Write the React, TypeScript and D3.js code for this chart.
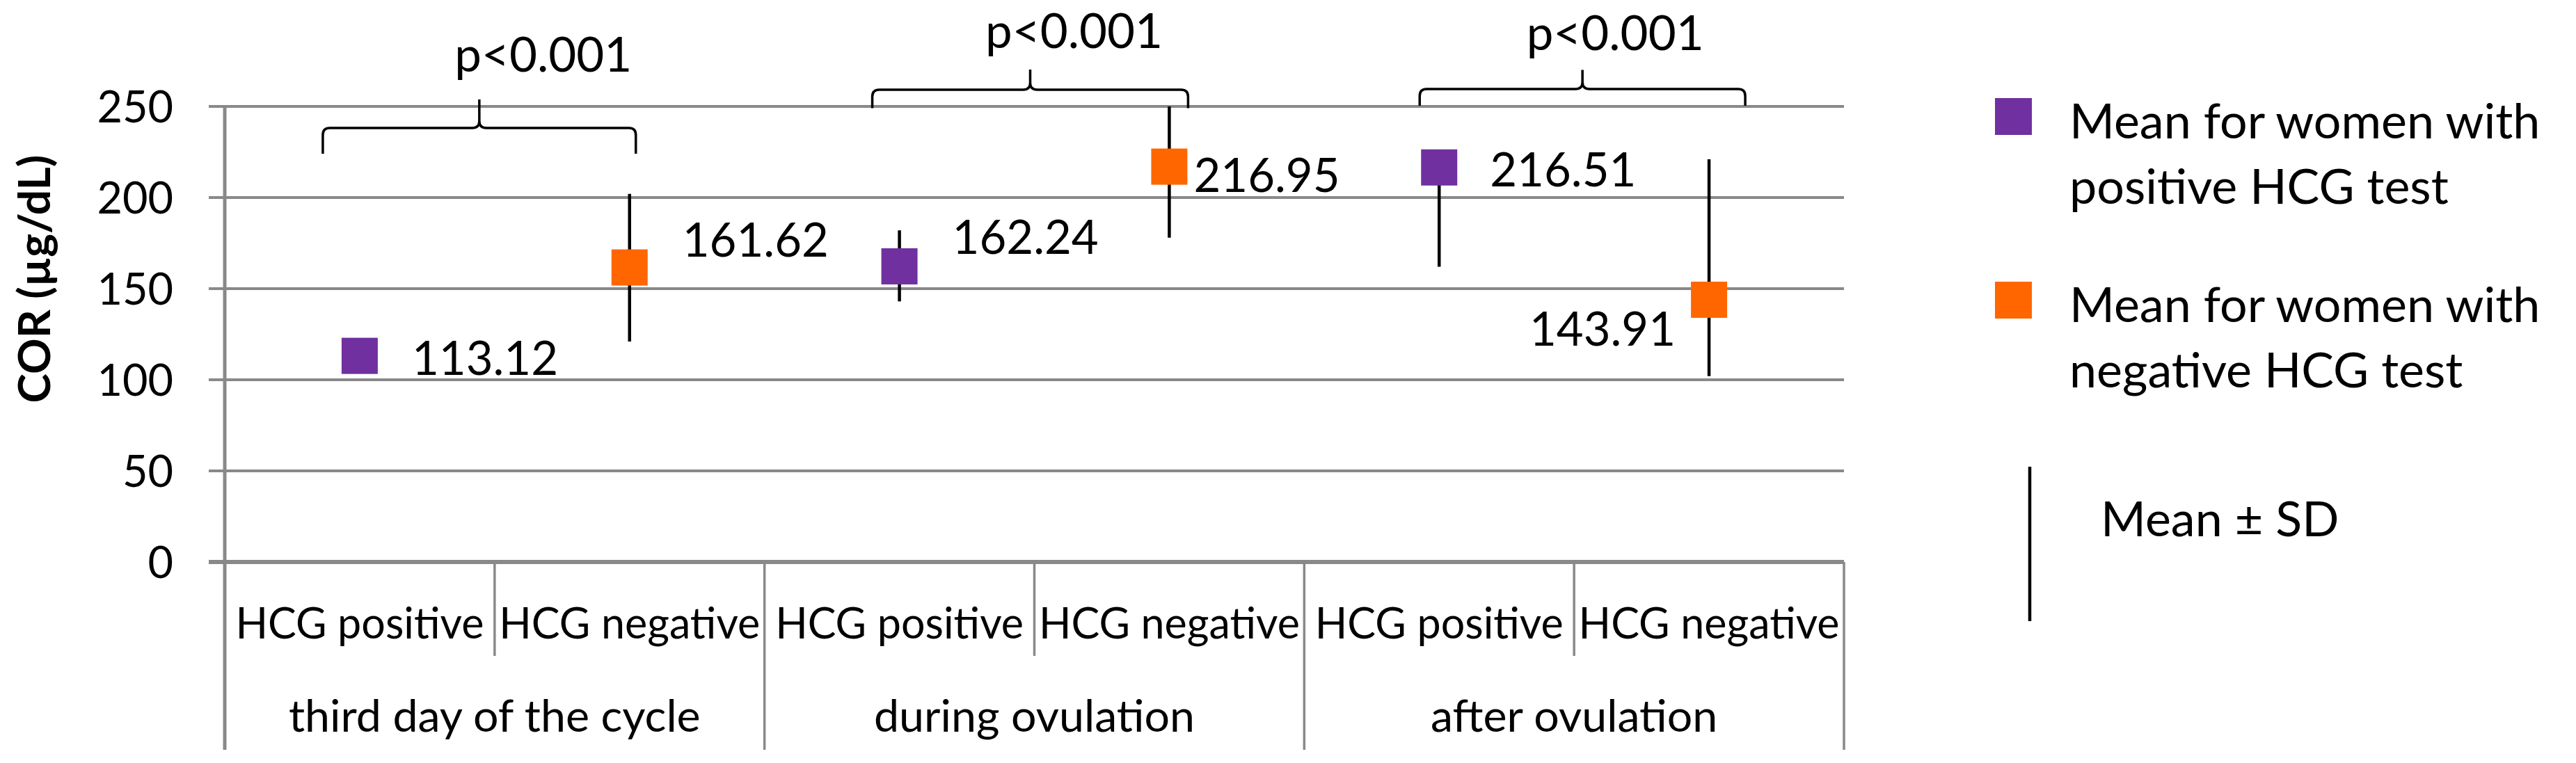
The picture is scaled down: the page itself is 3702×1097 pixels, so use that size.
import React from "react";
import * as d3 from "d3";

// ---- data ----
const groups = ["third day of the cycle", "during ovulation", "after ovulation"];
const subLabels = ["HCG positive", "HCG negative"];
const means = [113.12, 161.62, 162.24, 216.95, 216.51, 143.91];
const errLow = [113.12, 121, 143, 178, 162, 102];
const errHigh = [113.12, 202, 182, 256, 216.51, 221];
const seriesNames = [
  ["Mean for women with", "positive HCG test"],
  ["Mean for women with", "negative HCG test"],
];
const seriesColors = ["#7030A0", "#FF6600"];
const pLabels = ["p<0.001", "p<0.001", "p<0.001"];
const yTicks = [0, 50, 100, 150, 200, 250];
const yTitle = "COR (µg/dL)";
const sdLabel = "Mean ± SD";

// ---- layout ----
const W = 3702;
const H = 1097;
const FONT = "Lato, Calibri, Carlito, sans-serif";
const plotLeft = 323;
const plotRight = 2650;
const plotTop = 153;
const plotBottom = 808;
const subLabelBaseline = 918;
const subDividerBottom = 943;
const groupDividerBottom = 1078;
const groupLabelBaseline = 1052;
const markerSize = 52;
// label nudges [dx, dy(px), anchor]
const labelNudge: [number, number, string][] = [
  [75, 3, "start"],
  [76, -40, "start"],
  [76, -42, "start"],
  [35, 12, "start"],
  [73, 3, "start"],
  [-48, 42, "end"],
];
// bracket layout: [leftOffset from first center, rightOffset from second center, bar value, end value, tip value, text dx, text baseline value]
const bracketLayout: number[][] = [
  [-53, 9, 238.2, 224, 253.8, 92, 269],
  [-39, 27, 259.2, 249, 270.2, 63, 282],
  [-28, 52, 259.5, 250.4, 270, 47, 281],
];

export default function App() {
  const ids = means.map((_, i) => String(i));
  const x = d3.scaleBand<string>().domain(ids).range([plotLeft, plotRight]).padding(0);
  const y = d3.scaleLinear().domain([0, 250]).range([plotBottom, plotTop]);
  const cx = (i: number) => (x(String(i)) as number) + x.bandwidth() / 2;
  const bw = x.bandwidth();
  const grid = "#898989";

  const bracketPath = (i: number) => {
    const [lo, ro, bar, end, tip] = bracketLayout[i];
    const L = cx(i * 2) + lo;
    const R = cx(i * 2 + 1) + ro;
    const C = (L + R) / 2;
    const yb = y(bar);
    const ye = y(end);
    const yt = y(tip);
    const r = 10;
    return [
      `M${L},${ye}`,
      `L${L},${yb + r}`,
      `Q${L},${yb} ${L + r},${yb}`,
      `L${C - r},${yb}`,
      `Q${C},${yb} ${C},${yb - r}`,
      `L${C},${yt}`,
      `M${C},${yb - r}`,
      `Q${C},${yb} ${C + r},${yb}`,
      `L${R - r},${yb}`,
      `Q${R},${yb} ${R},${yb + r}`,
      `L${R},${ye}`,
    ].join(" ");
  };

  return (
    <div style={{ position: "absolute", left: 0, top: 0 }}>
      <svg width={W} height={H} style={{ display: "block", background: "#fff" }} fontFamily={FONT}>
        {/* gridlines + ticks */}
        {yTicks.map((t) => (
          <line key={"g" + t} x1={300} x2={plotRight} y1={y(t)} y2={y(t)} stroke={grid} strokeWidth={t === 0 ? 6 : 4} />
        ))}
        {yTicks.map((t) => (
          <text key={"tl" + t} x={249} y={y(t) + 23} fontSize={63} textAnchor="end" fill="#000">
            {t}
          </text>
        ))}
        {/* y axis line */}
        <line x1={plotLeft} x2={plotLeft} y1={plotTop} y2={groupDividerBottom} stroke={grid} strokeWidth={5} />
        {/* category dividers */}
        {d3.range(1, 7).map((k) => (
          <line
            key={"d" + k}
            x1={plotLeft + k * bw}
            x2={plotLeft + k * bw}
            y1={plotBottom}
            y2={k % 2 === 0 ? groupDividerBottom : subDividerBottom}
            stroke={grid}
            strokeWidth={3.5}
          />
        ))}
        {/* sub labels */}
        {ids.map((id, i) => (
          <text key={"s" + id} x={cx(i)} y={subLabelBaseline} fontSize={61} textAnchor="middle" fill="#000">
            {subLabels[i % 2]}
          </text>
        ))}
        {/* group labels */}
        {groups.map((g, gi) => (
          <text key={"gr" + gi} x={plotLeft + bw * (gi * 2 + 1)} y={groupLabelBaseline} fontSize={64.5} textAnchor="middle" fill="#000">
            {g}
          </text>
        ))}
        {/* y title */}
        <text transform={`translate(72,401) rotate(-90)`} fontSize={64} fontWeight="bold" textAnchor="middle" fill="#000">
          {yTitle}
        </text>
        {/* error bars */}
        {means.map((m, i) =>
          errHigh[i] > errLow[i] ? (
            <line
              key={"e" + i}
              x1={cx(i)}
              x2={cx(i)}
              y1={y(Math.max(0, errLow[i]))}
              y2={y(Math.min(250, errHigh[i]))}
              stroke="#000"
              strokeWidth={4.5}
            />
          ) : null
        )}
        {/* markers */}
        {means.map((m, i) => (
          <rect
            key={"m" + i}
            x={cx(i) - markerSize / 2}
            y={y(m) - markerSize / 2}
            width={markerSize}
            height={markerSize}
            fill={seriesColors[i % 2]}
          />
        ))}
        {/* value labels */}
        {means.map((m, i) => (
          <text
            key={"v" + i}
            x={cx(i) + labelNudge[i][0]}
            y={y(m) + labelNudge[i][1] + 24}
            fontSize={67}
            textAnchor={labelNudge[i][2] as any}
            fill="#000"
          >
            {m.toFixed(2)}
          </text>
        ))}
        {/* brackets */}
        {bracketLayout.map((b, i) => {
          const L = cx(i * 2) + b[0];
          const R = cx(i * 2 + 1) + b[1];
          return (
            <g key={"b" + i}>
              <path d={bracketPath(i)} fill="none" stroke="#000" strokeWidth={3.5} />
              <text x={(L + R) / 2 + b[5]} y={y(b[6])} fontSize={69} textAnchor="middle" fill="#000">
                {pLabels[i]}
              </text>
            </g>
          );
        })}
        {/* legend */}
        {seriesNames.map((lines, i) => (
          <g key={"lg" + i}>
            <rect x={2867} y={141 + i * 264} width={53} height={53} fill={seriesColors[i]} />
            {lines.map((ln, j) => (
              <text key={j} x={2974} y={199 + i * 264 + j * 94} fontSize={70} fill="#000">
                {ln}
              </text>
            ))}
          </g>
        ))}
        <line x1={2917} x2={2917} y1={671} y2={893} stroke="#000" strokeWidth={4.5} />
        <text x={3019} y={771} fontSize={70} fill="#000">
          {sdLabel}
        </text>
      </svg>
    </div>
  );
}
